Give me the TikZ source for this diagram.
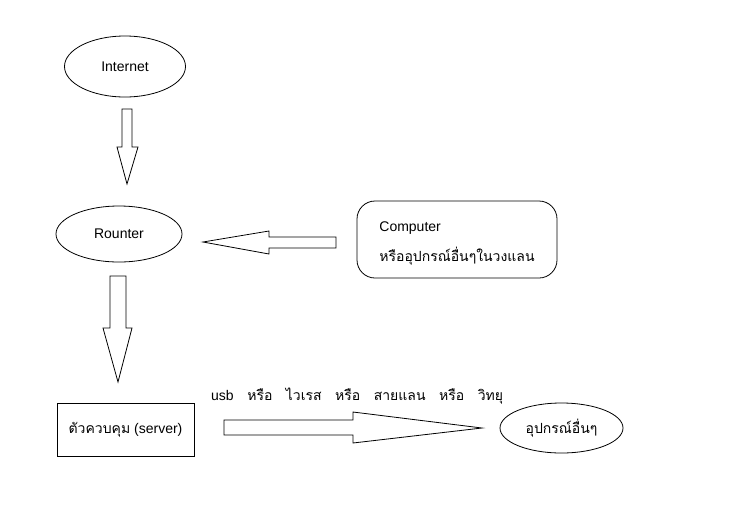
\documentclass[tikz,border=0pt]{standalone}
\usepackage{fontspec}
\setmainfont{Liberation Sans}
\newfontfamily\thaifont[Script=Thai]{Loma}
\usetikzlibrary{shapes.geometric}
\begin{document}
\begin{tikzpicture}[x=1pt,y=-1pt,
  every node/.style={font=\fontsize{14}{16}\selectfont, inner sep=0pt},
  oval/.style={draw, ellipse, line width=0.8pt},
  blockarrow/.style={draw, line width=0.8pt, fill=white},
  box/.style={draw, line width=0.8pt}]
\useasboundingbox (0,0) rectangle (746,509);
\fill[white] (0,0) rectangle (746,509);

\node[oval, minimum width=121pt, minimum height=61pt] (internet) at (125,66.5) {Internet};
\node[oval, minimum width=126pt, minimum height=56pt] (router) at (119,234) {Rounter};
\node[box, rounded corners=18pt, minimum width=200pt, minimum height=77pt, align=left,
      font=\fontsize{14}{30}\selectfont] (computer) at (457,239.5)
  {\rule{0pt}{18pt}Computer\\{\thaifont หรืออุปกรณ์อื่นๆในวงแลน}};
\node[box, minimum width=137pt, minimum height=53pt] (server) at (125.5,429.5)
  {{\thaifont ตัวควบคุม} (server)};
\node[oval, minimum width=123pt, minimum height=50pt] (other) at (561.5,428)
  {\thaifont อุปกรณ์อื่นๆ};
\node[anchor=west] (media) at (211,396)
  {usb\hskip13.5pt{\thaifont หรือ\hskip13.5pt ไวเรส\hskip13.5pt หรือ\hskip13.5pt สายแลน\hskip13.5pt หรือ\hskip13.5pt วิทยุ}};

% block arrows
\draw[blockarrow] (122,109)--(132,109)--(132,147)--(138,147)--(127,184)--(117,147)--(122,147)--cycle;
\draw[blockarrow] (336,237)--(336,248)--(269,248)--(269,254)--(203,242)--(269,231)--(269,237)--cycle;
\draw[blockarrow] (110,276)--(126,276)--(126,328)--(132,328)--(118,382)--(103,328)--(110,328)--cycle;
\draw[blockarrow] (224,420)--(353,420)--(353,412)--(482,428)--(353,443)--(353,435)--(224,435)--cycle;
\end{tikzpicture}
\end{document}
